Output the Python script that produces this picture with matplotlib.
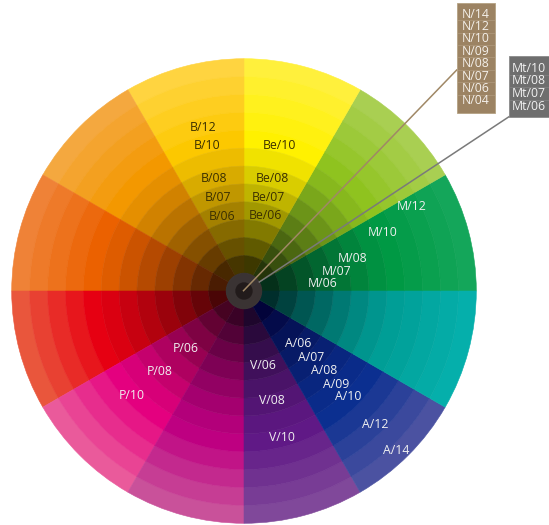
import numpy as np
import matplotlib
matplotlib.use("Agg")
import matplotlib.pyplot as plt
from matplotlib.colors import to_rgb
from matplotlib.patches import Circle, Rectangle

plt.rcParams["font.family"] = ["Open Sans", "DejaVu Sans"]

# 12 hue sectors, counter-clockwise from 0 deg (3 o'clock)
sectors = ["M", "YG", "Be", "B", "O", "OR", "R", "P", "Mg", "V", "A", "T"]
# colour of each sector: outermost ring, pure ring, innermost ring
outer_cols = ["#14a65a", "#a9cf52", "#fff03c", "#ffd440", "#f4a83f", "#ef8237",
              "#e9563c", "#ea5a9b", "#c9519a", "#80489a", "#4b52a1", "#05afab"]
pure_cols = ["#009944", "#8fc31f", "#fff100", "#fcc800", "#f39800", "#eb6100",
             "#e60012", "#e4007f", "#be0081", "#601986", "#0b2f90", "#009e96"]
inner_cols = ["#05301a", "#25350a", "#3d3800", "#463600", "#482800", "#4a1c02",
              "#4a0506", "#460322", "#3a0226", "#1e062c", "#02033a", "#002e2c"]
n_rings = 12
pure_ring = 4  # counted from the outside

# labels on the wheel: text, angle (deg), distance from centre (px)
wheel_labels = ["B/12", "B/10", "B/08", "B/07", "B/06",
                "Be/10", "Be/08", "Be/07", "Be/06",
                "M/12", "M/10", "M/08", "M/07", "M/06",
                "P/06", "P/08", "P/10",
                "V/06", "V/08", "V/10",
                "A/06", "A/07", "A/08", "A/09", "A/10", "A/12", "A/14"]
label_ang = [104, 104.2, 105, 105.5, 106.3,
             76.5, 76, 75.7, 74.4,
             26.6, 22.8, 16.5, 12, 5.8,
             225, 223.6, 222.9,
             -75.8, -75.7, -75.4,
             -44, -44.6, -45, -45.3, -45.5, -45.4, -46.3]
label_rad = [169, 150.6, 116, 97.5, 78,
             150, 115.5, 97, 78,
             188, 150, 113, 95, 79,
             82, 117, 153,
             77, 113.5, 151,
             76, 94, 113, 131, 148.5, 187, 221]

# side legends
n_labels = ["N/14", "N/12", "N/10", "N/09", "N/08", "N/07", "N/06", "N/04"]
mt_labels = ["Mt/10", "Mt/08", "Mt/07", "Mt/06"]


def mix(c1, c2, t):
    a = np.array(to_rgb(c1))
    b = np.array(to_rgb(c2))
    return tuple(a + (b - a) * t)


def ring_colour(s, i):
    if i <= pure_ring:
        return mix(outer_cols[s], pure_cols[s], i / pure_ring)
    t = (i - pure_ring) / (n_rings - 1 - pure_ring)
    return mix(pure_cols[s], inner_cols[s], t ** 1.3)


W, H = 549, 525
fig = plt.figure(figsize=(W / 100, H / 100), dpi=100)
ax = fig.add_axes([0, 0, 1, 1])

cx, cy = 244, 234
r_hub = 17.5
ring_w = 17.9
r_out = r_hub + n_rings * ring_w

for i in range(n_rings):
    cols = [ring_colour(s, i) for s in range(len(sectors))]
    wedges, _ = ax.pie([1] * len(sectors), radius=r_out - i * ring_w, center=(cx, cy),
                       startangle=0, counterclock=True, colors=cols,
                       wedgeprops=dict(width=ring_w, linewidth=0.4))
    for w, c in zip(wedges, cols):
        w.set_edgecolor(c)

# hub
ax.add_patch(Circle((cx, cy), r_hub, color="#3a3333", zorder=5))
ax.add_patch(Circle((cx, cy), 8, color="#221b1b", zorder=6))

# wheel labels
for txt, a, r in zip(wheel_labels, label_ang, label_rad):
    x = cx + r * np.cos(np.radians(a))
    y = cy + r * np.sin(np.radians(a))
    col = "#3a2f00" if txt.startswith("B") else "#f0f0f0"
    ax.text(x, y, txt, color=col, fontsize=8.8, ha="center", va="center", zorder=8)

# N legend box
nx0, nx1, ny_top, ny_bot = 456.7, 495, H - 2.7, H - 113
ax.add_patch(Rectangle((nx0, ny_bot), nx1 - nx0, ny_top - ny_bot,
                       facecolor="#9c8363", edgecolor="#b5a283", linewidth=0.6, zorder=9))
row_h = 12.4
for k, t in enumerate(n_labels):
    yc = H - (14 + k * row_h)
    ax.text((nx0 + nx1) / 2, yc, t, color="#f4f0ea", fontsize=8.8,
            ha="center", va="center", zorder=11)
    if k > 0:
        ax.plot([nx0 + 1, nx1 - 1], [yc + row_h / 2] * 2, color="#ad9779",
                linewidth=0.6, zorder=10)

# Mt legend box
mx0, mx1, my_top, my_bot = 509, 552, H - 56, H - 116.7
ax.add_patch(Rectangle((mx0, my_bot), mx1 - mx0, my_top - my_bot,
                       facecolor="#6e6e6e", edgecolor="#8a8a8a", linewidth=0.6, zorder=9))
row_h2 = 12.6
for k, t in enumerate(mt_labels):
    yc = H - (68.3 + k * row_h2)
    ax.text(529, yc, t, color="#f2f2f2", fontsize=8.8,
            ha="center", va="center", zorder=11)
    if k > 0:
        ax.plot([mx0 + 1, mx1], [yc + row_h2 / 2] * 2, color="#808080",
                linewidth=0.6, zorder=10)

# leader lines
ax.plot([cx - 0.5, nx0], [cy + 0.3, H - 70], color="#a08866", linewidth=1.1, zorder=7)
ax.plot([259.3, mx0], [H - 282, my_bot], color="#7a7a7a", linewidth=1.1, zorder=7)

ax.set_xlim(0, W)
ax.set_ylim(0, H)
ax.set_aspect("equal")
ax.axis("off")

fig.savefig("out.png", dpi=100)
